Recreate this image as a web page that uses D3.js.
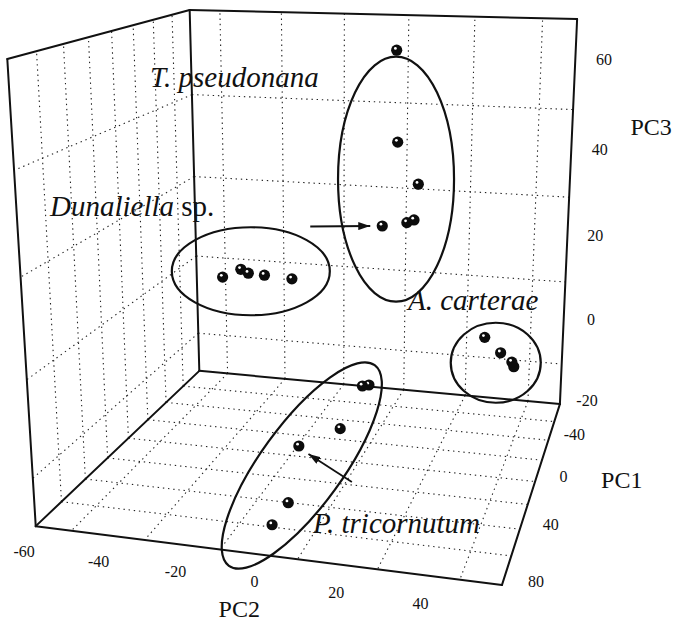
<!DOCTYPE html>
<html>
<head>
<meta charset="utf-8">
<script src="https://cdn.jsdelivr.net/npm/d3@7"></script>
<style>
  body { margin: 0; background: #fff; }
  text { font-family: "Liberation Serif", "Times New Roman", serif; fill: #111; }
</style>
</head>
<body>
<svg id="chart" width="676" height="625"></svg>
<script>
// samples as [PC1, PC2, PC3]
const tpseudonana = [[-40, 13.1, 64.9], [-40, 13.7, 45.2], [-40, 19.9, 36.2],
                     [-40, 9.4, 26.4], [-40, 16.7, 27.5], [-40, 18.8, 28.2]];
const dunaliella = [[-50, -42.9, 10.3], [-50, -36.9, 12.5], [-50, -34.5, 11.7],
                    [-50, -29.3, 11.5], [-50, -20.5, 11.1]];
const acarterae = [[-30, 41.5, 4.6], [-30, 46.2, 1.4], [-30, 49.5, -0.5], [-30, 50.1, -1.5]];
const ptricornutum = [[-70.7, -2.0, -18], [-72.6, -0.2, -18], [-22.4, 0.3, -18],
                      [-1.6, -7.8, -18], [47.4, 0.2, -18], [65.2, 0.0, -18]];

const pc1Ticks = [-40, 0, 40, 80];
const pc2Ticks = [-60, -40, -20, 0, 20, 40];
const pc3Ticks = [-20, 0, 20, 40, 60];
const pc1Grid = [-60, -40, -20, 0, 20, 40, 60];
const pc2Grid = [-50, -30, -10, 10, 30, 50];
const pc3Grid = [-10, 10, 30, 50];

const svg = d3.select("#chart");

// cube coords: u = PC2 (left->right), v = PC1 (back->front), w = PC3 (bottom->top)
const pc1 = d3.scaleLinear().domain([-80, 80]).range([0, 1]);
const pc2 = d3.scaleLinear().domain([-60, 60]).range([0, 1]);
const pc3 = d3.scaleLinear().domain([-20, 70]).range([0, 1]);
const toCube = d => [pc2(d[1]), pc1(d[0]), pc3(d[2])];

// where the box corners sit on the page, used to fit the perspective camera
const frame = [
  [[0, 0, 1], [190, 10]],
  [[1, 0, 1], [577, 19]],
  [[1, 0, 0], [560, 404]],
  [[0, 0, 0], [199, 371]],
  [[0, 1, 1], [7, 59]],
  [[0, 1, 0], [36, 526]],
  [[1, 1, 0], [502, 585]]
];

function fitCamera(pairs) {
  const n = 11;
  const M = d3.range(n).map(() => new Array(n + 1).fill(0));
  const rows = [];
  pairs.forEach(([[u, v, w], [x, y]]) => {
    rows.push([[u, v, w, 1, 0, 0, 0, 0, -x * u, -x * v, -x * w], x]);
    rows.push([[0, 0, 0, 0, u, v, w, 1, -y * u, -y * v, -y * w], y]);
  });
  rows.forEach(([a, b]) => {
    for (let i = 0; i < n; i++) {
      for (let j = 0; j < n; j++) M[i][j] += a[i] * a[j];
      M[i][n] += a[i] * b;
    }
  });
  for (let c = 0; c < n; c++) {
    let p = c;
    for (let r = c + 1; r < n; r++) if (Math.abs(M[r][c]) > Math.abs(M[p][c])) p = r;
    [M[c], M[p]] = [M[p], M[c]];
    for (let r = 0; r < n; r++) {
      if (r === c) continue;
      const f = M[r][c] / M[c][c];
      for (let j = c; j <= n; j++) M[r][j] -= f * M[c][j];
    }
  }
  return M.map((row, i) => row[n] / row[i]);
}
const P = fitCamera(frame);

function project([u, v, w]) {
  const d = P[8] * u + P[9] * v + P[10] * w + 1;
  return [(P[0] * u + P[1] * v + P[2] * w + P[3]) / d,
          (P[4] * u + P[5] * v + P[6] * w + P[7]) / d];
}
const depth = c => P[8] * c[0] + P[9] * c[1] + P[10] * c[2] + 1;

const line3 = (a, b) => {
  const p = project(a), q = project(b);
  return `M${p[0]},${p[1]}L${q[0]},${q[1]}`;
};

// face grids
const gridPaths = [];
pc2Grid.forEach(g => { const u = pc2(g);
  gridPaths.push(line3([u, 0, 0], [u, 0, 1]));   // back wall
  gridPaths.push(line3([u, 0, 0], [u, 1, 0]));   // floor
});
pc3Grid.forEach(g => { const w = pc3(g);
  gridPaths.push(line3([0, 0, w], [1, 0, w]));   // back wall
  gridPaths.push(line3([0, 0, w], [0, 1, w]));   // left wall
});
pc1Grid.forEach(g => { const v = pc1(g);
  gridPaths.push(line3([0, v, 0], [0, v, 1]));   // left wall
  gridPaths.push(line3([0, v, 0], [1, v, 0]));   // floor
});
svg.append("g").selectAll("path").data(gridPaths).join("path")
  .attr("d", d => d).attr("fill", "none")
  .attr("stroke", "#222").attr("stroke-width", 1.1)
  .attr("stroke-dasharray", "1.4,3.8");

// box edges
const edges = [
  [[0,0,1],[1,0,1]], [[1,0,1],[1,0,0]], [[0,0,0],[1,0,0]], [[0,0,0],[0,0,1]],
  [[0,1,1],[0,0,1]], [[0,1,1],[0,1,0]], [[0,1,0],[0,0,0]], [[0,1,0],[1,1,0]],
  [[1,1,0],[1,0,0]]
];
svg.append("g").selectAll("path").data(edges).join("path")
  .attr("d", d => line3(d[0], d[1])).attr("fill", "none")
  .attr("stroke", "#111").attr("stroke-width", 2).attr("stroke-linecap", "round");

// tick labels
const tickG = svg.append("g").attr("font-size", 16).attr("text-anchor", "middle");
pc2Ticks.forEach(t => {
  const p = project([pc2(t), 1.12, 0]);
  tickG.append("text").attr("x", p[0] + 15).attr("y", p[1]).attr("dy", "0.35em").text(t);
});
pc1Ticks.forEach(t => {
  const p = project([1.08, pc1(t), 0]);
  tickG.append("text").attr("x", p[0] - 7).attr("y", p[1] - 9).attr("dy", "0.35em").text(t);
});
pc3Ticks.forEach(t => {
  const p = project([1.07, 0, pc3(t)]);
  tickG.append("text").attr("x", p[0]).attr("y", p[1] - 6).attr("dy", "0.35em").text(t);
});

// axis titles
const titles = [["PC2", [pc2(4), 1.22, 0]], ["PC1", [1.19, pc1(-10), 0]], ["PC3", [1.19, 0, pc3(47)]]];
svg.append("g").attr("font-size", 24).attr("text-anchor", "middle")
  .selectAll("text").data(titles).join("text")
  .attr("x", d => project(d[1])[0]).attr("y", d => project(d[1])[1])
  .attr("dy", "0.35em").text(d => d[0]);

// cluster outlines
const clusters = [
  { pts: tpseudonana, dx: -6.6, dy: 5, rx: 58, ry: 122.5, rot: 0 },
  { pts: dunaliella, dx: -2.8, dy: -3.5, rx: 79, ry: 44, rot: 0 },
  { pts: acarterae, dx: -7, dy: 8, rx: 45, ry: 40, rot: 0 },
  { pts: ptricornutum, dx: -20, dy: 20, rx: 124, ry: 41, rot: -54 }
];
clusters.forEach(c => {
  const pp = c.pts.map(d => project(toCube(d)));
  const cx = d3.mean(pp, p => p[0]) + c.dx, cy = d3.mean(pp, p => p[1]) + c.dy;
  svg.append("ellipse")
    .attr("transform", `translate(${cx},${cy}) rotate(${c.rot})`)
    .attr("rx", c.rx).attr("ry", c.ry)
    .attr("fill", "none").attr("stroke", "#111").attr("stroke-width", 2.2);
});

// spheres, far ones first
const all = [].concat(tpseudonana, dunaliella, acarterae, ptricornutum)
  .map(d => ({ d, c: toCube(d) }))
  .sort((a, b) => depth(b.c) - depth(a.c));
const ball = svg.append("g").selectAll("g").data(all).join("g")
  .attr("transform", d => { const p = project(d.c); return `translate(${p[0]},${p[1]})`; });
ball.append("circle").attr("r", 5.6).attr("fill", "#0c0c0c");
ball.append("circle").attr("r", 1.4).attr("cx", -1.3).attr("cy", -1.8).attr("fill", "#fff");

// arrows pointing at single samples
svg.append("defs").append("marker")
  .attr("id", "head").attr("viewBox", "0 0 12 8").attr("refX", 12).attr("refY", 4)
  .attr("markerWidth", 12).attr("markerHeight", 8).attr("markerUnits", "userSpaceOnUse")
  .attr("orient", "auto")
  .append("path").attr("d", "M0,0L12,4L0,8Z").attr("fill", "#111");
const arrows = [
  { target: tpseudonana[3], from: [-72, 0.5], to: [-12, 0] },
  { target: ptricornutum[3], from: [53, 36], to: [9.6, 8] }
];
arrows.forEach(a => {
  const p = project(toCube(a.target));
  svg.append("line")
    .attr("x1", p[0] + a.from[0]).attr("y1", p[1] + a.from[1])
    .attr("x2", p[0] + a.to[0]).attr("y2", p[1] + a.to[1])
    .attr("stroke", "#111").attr("stroke-width", 1.8).attr("marker-end", "url(#head)");
});

// species labels
const labelG = svg.append("g").attr("font-size", 29);
labelG.append("text").attr("x", 150).attr("y", 87).attr("font-style", "italic").text("T. pseudonana");
const dl = labelG.append("text").attr("x", 50).attr("y", 216);
dl.append("tspan").attr("font-style", "italic").text("Dunaliella");
dl.append("tspan").text(" sp.");
labelG.append("text").attr("x", 408).attr("y", 310).attr("font-style", "italic").text("A. carterae");
labelG.append("text").attr("x", 313).attr("y", 533).attr("font-style", "italic").text("P. tricornutum");
</script>
</body>
</html>
